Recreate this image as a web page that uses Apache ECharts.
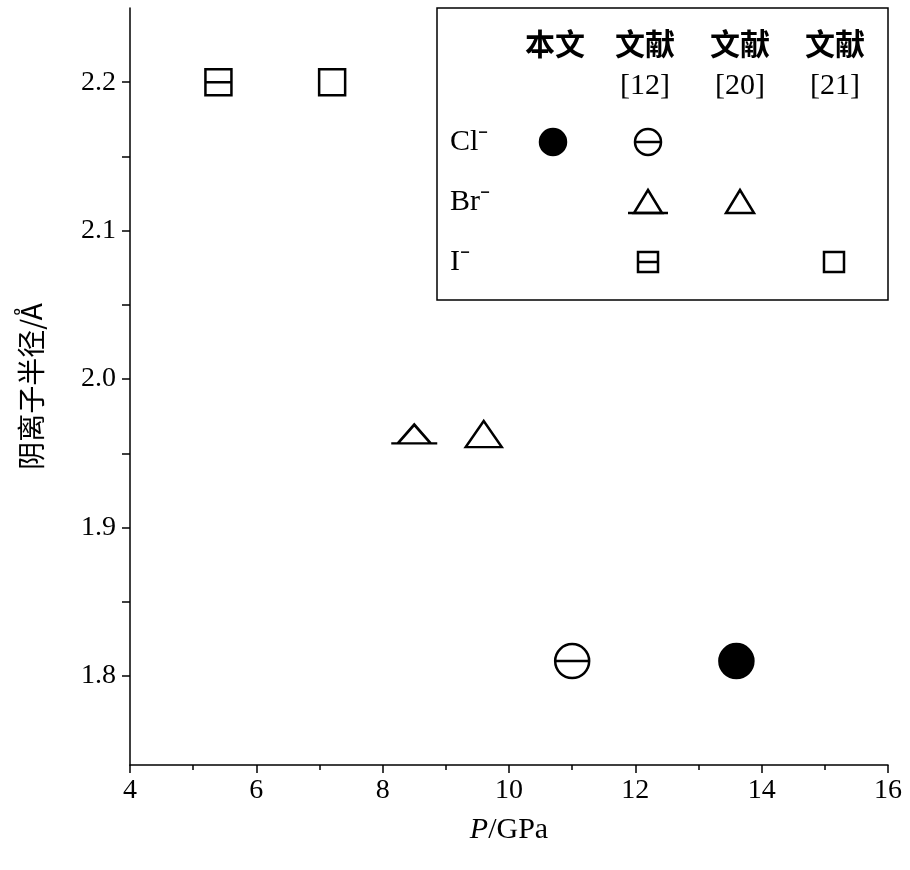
<!DOCTYPE html>
<html>
<head>
<meta charset="utf-8">
<script src="https://cdn.jsdelivr.net/npm/echarts@6/dist/echarts.min.js"></script>
<style>html,body{margin:0;padding:0;background:#fff}#main{width:910px;height:870px}</style>
</head>
<body>
<div id="main"></div>
<script>
// data
var clThis = [[13.6, 1.81]];
var cl12 = [[11.0, 1.81]];
var br12 = [[8.5, 1.963]];
var br20 = [[9.6, 1.963]];
var i12 = [[5.4, 2.2]];
var i21 = [[7.2, 2.2]];

var CIRC = 'path://M0,-10A10,10,0,1,1,0,10A10,10,0,1,1,0,-10Z';
var CIRC_LINE = 'path://M0,-10A10,10,0,1,1,0,10A10,10,0,1,1,0,-10ZM-10,0L10,0';
var TRI = 'path://M0,-10L11.5,10L-11.5,10Z';
var TRI_LINE = 'path://M0,-10L11.5,10L-11.5,10ZM-16,10L16,10';
var SQ = 'path://M-10,-10L10,-10L10,10L-10,10Z';
var SQ_LINE = 'path://M-10,-10L10,-10L10,10L-10,10ZM-10,0L10,0';

var serif = 'Liberation Serif';
var cjk = 'Noto Sans CJK SC';

function sc(data, sym, size, filled) {
    return {
        type: 'scatter', data: data, symbol: sym, symbolSize: size, symbolKeepAspect: true,
        itemStyle: {color: filled ? '#000' : '#fff', borderColor: '#000', borderWidth: 2.5, opacity: 1}
    };
}

var chart = echarts.init(document.getElementById('main'));

// legend drawn as graphic
var lg = [];
var st = function (filled) { return {fill: filled ? '#000' : '#fff', stroke: '#000', lineWidth: 2.5}; };
function hline(x1, x2, y) {
    lg.push({type: 'line', shape: {x1: x1, y1: y, x2: x2, y2: y}, style: {stroke: '#000', lineWidth: 2.5}});
}
lg.push({type: 'rect', shape: {x: 437, y: 8, width: 451, height: 292}, style: {fill: '#fff', stroke: '#000', lineWidth: 1.5}});
var headers = ['本文', '文献', '文献', '文献'];
var refs = ['', '[12]', '[20]', '[21]'];
var cols = [555, 645, 740, 835];
var ions = ['Cl⁻', 'Br⁻', 'I⁻'];
for (var i = 0; i < 4; i++) {
    lg.push({type: 'text', x: cols[i], y: 44, style: {text: headers[i], font: 'bold 30px "' + cjk + '"', fill: '#000', align: 'center', verticalAlign: 'middle'}});
    if (refs[i]) lg.push({type: 'text', x: cols[i], y: 86, style: {text: refs[i], font: '30px "' + serif + '"', fill: '#000', align: 'center', verticalAlign: 'middle'}});
}
var rows = [142, 202, 262];
for (var j = 0; j < 3; j++) {
    lg.push({type: 'text', x: 450, y: rows[j], style: {text: ions[j], font: '30px "' + serif + '"', fill: '#000', align: 'left', verticalAlign: 'middle'}});
}
lg.push({type: 'circle', shape: {cx: 553, cy: 142, r: 13}, style: st(true)});
lg.push({type: 'circle', shape: {cx: 648, cy: 142, r: 13}, style: st(false)});
hline(635, 661, 142);
lg.push({type: 'polygon', shape: {points: [[648, 190], [662, 213], [634, 213]]}, style: st(false)});
hline(628, 668, 213);
lg.push({type: 'polygon', shape: {points: [[740, 190], [754, 213], [726, 213]]}, style: st(false)});
lg.push({type: 'rect', shape: {x: 638, y: 252, width: 20, height: 20}, style: st(false)});
hline(638, 658, 262);
lg.push({type: 'rect', shape: {x: 824, y: 252, width: 20, height: 20}, style: st(false)});

chart.setOption({
    animation: false,
    grid: {left: 130, right: 22, top: 8, bottom: 105},
    xAxis: {
        type: 'value', min: 4, max: 16, interval: 2,
        name: '{i|P}/GPa', nameLocation: 'middle', nameGap: 50,
        nameTextStyle: {fontFamily: serif, fontSize: 30, color: '#000', rich: {i: {fontFamily: serif, fontSize: 30, fontStyle: 'italic', color: '#000'}}},
        axisLine: {lineStyle: {color: '#000', width: 1.5}},
        axisTick: {length: 8, lineStyle: {color: '#000', width: 1.5}},
        minorTick: {show: true, splitNumber: 2, length: 5, lineStyle: {color: '#000', width: 1.5}},
        axisLabel: {fontFamily: serif, fontSize: 28, color: '#000', margin: 12},
        splitLine: {show: false}
    },
    yAxis: {
        type: 'value', min: 1.74, max: 2.25,
        name: '阴离子半径/Å', nameLocation: 'middle', nameGap: 85,
        nameTextStyle: {fontFamily: cjk, fontSize: 28, color: '#000'},
        axisLine: {show: true, lineStyle: {color: '#000', width: 1.5}},
        axisTick: {show: true, length: 8, lineStyle: {color: '#000', width: 1.5}, customValues: [1.8, 1.85, 1.9, 1.95, 2.0, 2.05, 2.1, 2.15, 2.2]},
        axisLabel: {fontFamily: serif, fontSize: 28, color: '#000', margin: 14, customValues: [1.8, 1.9, 2.0, 2.1, 2.2],
            formatter: function (v) { return v.toFixed(1); }},
        splitLine: {show: false}
    },
    series: [
        sc(clThis, CIRC, 34, true),
        sc(cl12, CIRC_LINE, 34, false),
        sc(br12, TRI_LINE, [46, 30], false),
        sc(br20, TRI, [36, 30], false),
        sc(i12, SQ_LINE, 26, false),
        sc(i21, SQ, 26, false)
    ],
    graphic: lg
});
</script>
</body>
</html>
